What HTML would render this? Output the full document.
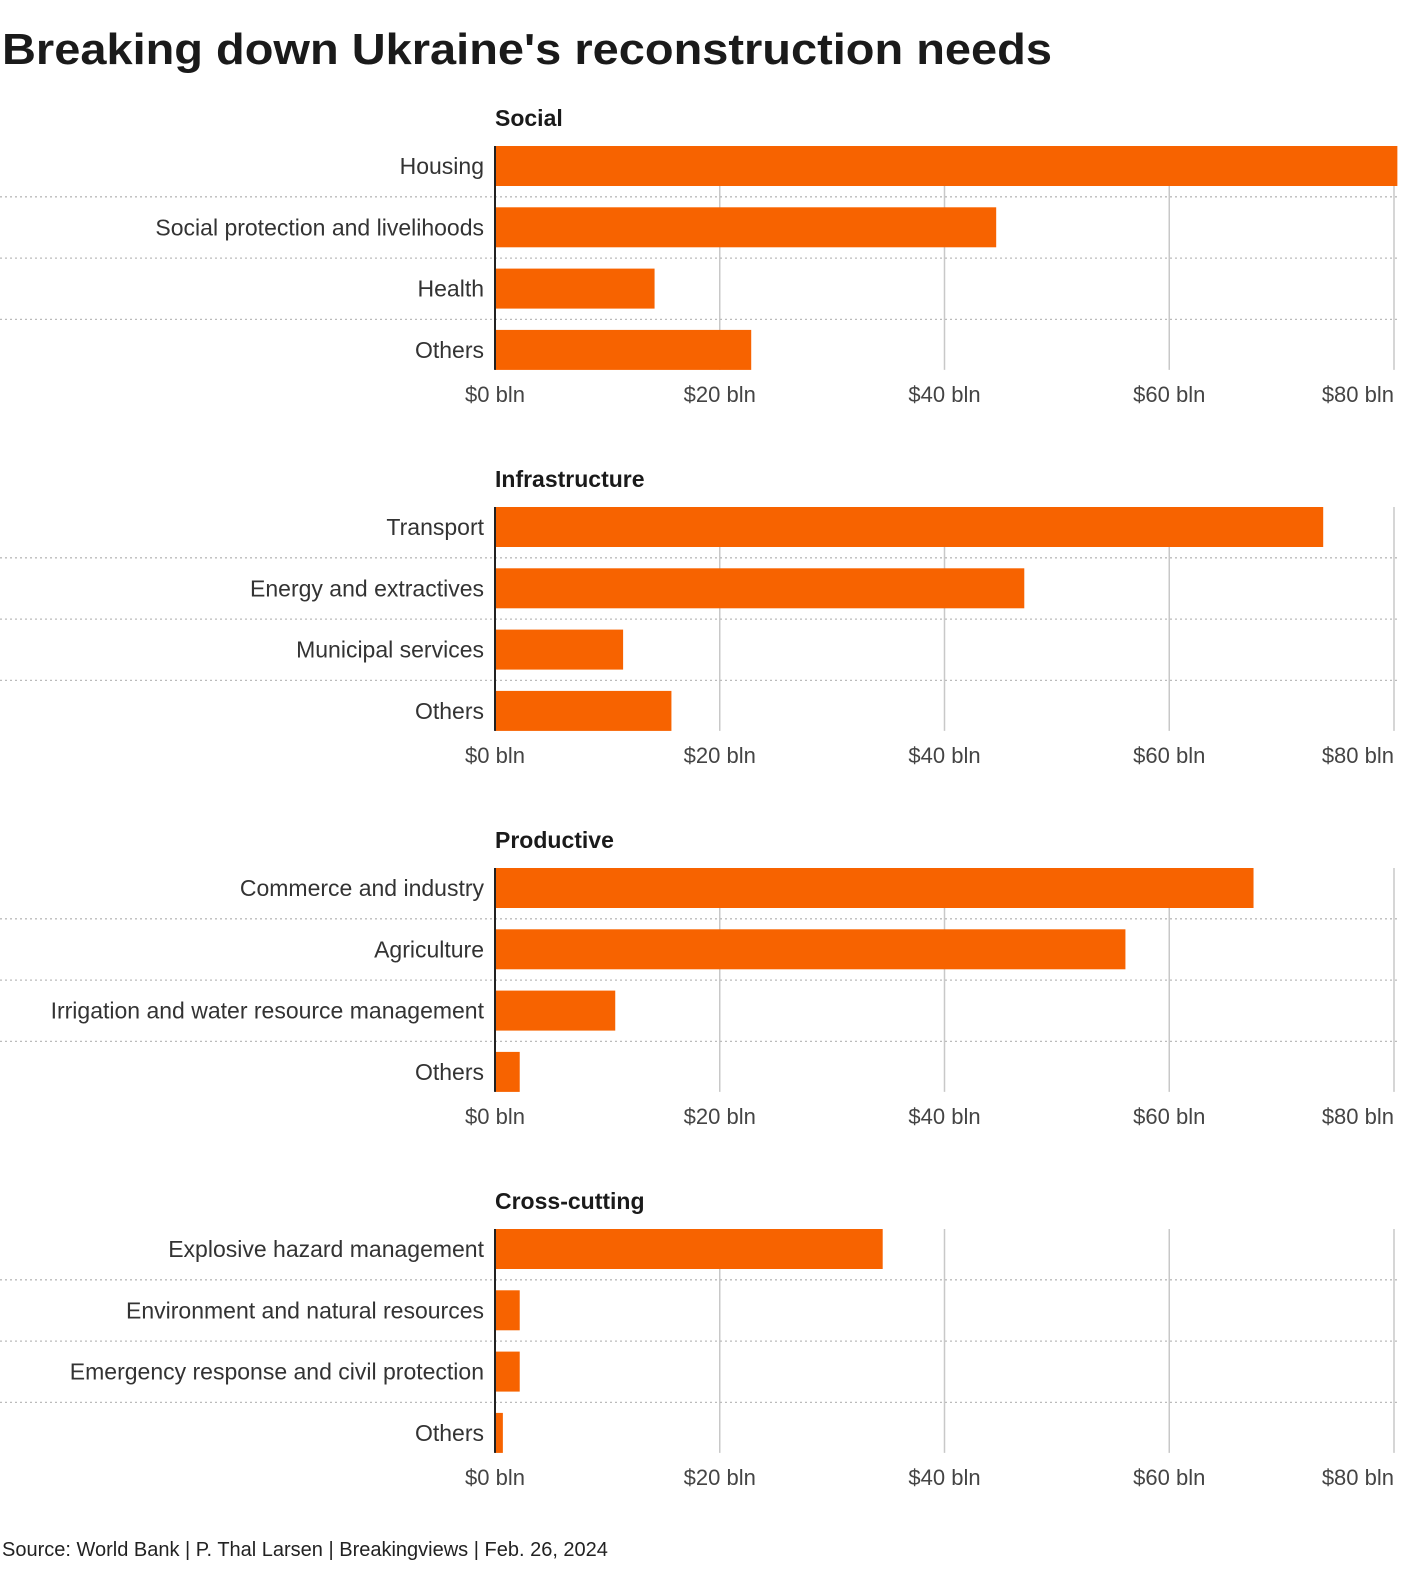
<!DOCTYPE html>
<html><head><meta charset="utf-8"><style>
body{margin:0;background:#fff;width:1420px;height:1590px;overflow:hidden;font-family:"Liberation Sans",sans-serif}
</style></head><body>
<svg id="chart" width="1420" height="1590" xmlns="http://www.w3.org/2000/svg" font-family="Liberation Sans, sans-serif">
<text x="2" y="64" font-size="44" font-weight="bold" fill="#1a1a1a" textLength="1050" lengthAdjust="spacingAndGlyphs">Breaking down Ukraine's reconstruction needs</text>
<text x="2" y="1556" font-size="20" fill="#222">Source: World Bank | P. Thal Larsen | Breakingviews | Feb. 26, 2024</text>
</svg>
<script>
const panelTitles = ["Social", "Infrastructure", "Productive", "Cross-cutting"];
const socialLabels = ["Housing", "Social protection and livelihoods", "Health", "Others"];
const socialValues = [80.3, 44.6, 14.2, 22.8];
const infraLabels = ["Transport", "Energy and extractives", "Municipal services", "Others"];
const infraValues = [73.7, 47.1, 11.4, 15.7];
const prodLabels = ["Commerce and industry", "Agriculture", "Irrigation and water resource management", "Others"];
const prodValues = [67.5, 56.1, 10.7, 2.2];
const crossLabels = ["Explosive hazard management", "Environment and natural resources", "Emergency response and civil protection", "Others"];
const crossValues = [34.5, 2.2, 2.2, 0.7];
const tickValues = [0, 20, 40, 60, 80];
const tickLabels = ["$0 bln", "$20 bln", "$40 bln", "$60 bln", "$80 bln"];

const svg = document.getElementById('chart');
const NS = "http://www.w3.org/2000/svg";
const x0 = 495, pxPer = (1394 - 495) / 80;
const xScale = v => x0 + v * pxPer;
function mk(tag, attrs, parent) {
  const e = document.createElementNS(NS, tag);
  for (const k in attrs) e.setAttribute(k, attrs[k]);
  (parent || svg).appendChild(e);
  return e;
}
const panels = [[socialLabels, socialValues], [infraLabels, infraValues], [prodLabels, prodValues], [crossLabels, crossValues]];
panels.forEach((p, pi) => {
  const top = 146 + pi * 361;
  const g = mk('g', {});
  
  
  const t = mk('text', {x: 495, y: top - 20, 'font-size': 23, 'font-weight': 'bold', fill: '#1a1a1a'}, g);
  t.textContent = panelTitles[pi];
  
  
  const bottom = top + 3 * 61.3 + 40;
  tickValues.forEach((tv, ti) => {
    if (ti > 0) {
      const gl = mk('line', {x1: xScale(tv), x2: xScale(tv), y1: top, y2: bottom, stroke: '#c8c8c8', 'stroke-width': 1.5}, g);
      
      
    }
    const tl = mk('text', {x: xScale(tv), y: bottom + 32, 'font-size': 22, fill: '#444', 'text-anchor': ti === 4 ? 'end' : 'middle'}, g);
    if (ti === 4) tl.setAttribute('x', 1394);
    tl.textContent = tickLabels[ti];
    
    
  });
  for (let i = 1; i < 4; i++) {
    const y = top + i * 61.3 - 10.5;
    const d = mk('line', {x1: 0, x2: 1398, y1: y, y2: y, stroke: '#bbb', 'stroke-width': 1.3, 'stroke-dasharray': '2,3'}, g);
    
    
  }
  p[0].forEach((lab, i) => {
    const y = top + i * 61.3;
    const b = mk('rect', {x: x0, y: y, width: Math.max(0, xScale(p[1][i]) - x0), height: 40, fill: '#f76300'}, g);
    
    
    const l = mk('text', {x: 484, y: y + 28, 'font-size': 23, fill: '#333', 'text-anchor': 'end'}, g);
    l.textContent = lab;
    
    
  });
  const ax = mk('line', {x1: 495, x2: 495, y1: top, y2: bottom, stroke: '#222', 'stroke-width': 2}, g);
  
  
});
</script>
</body></html>
